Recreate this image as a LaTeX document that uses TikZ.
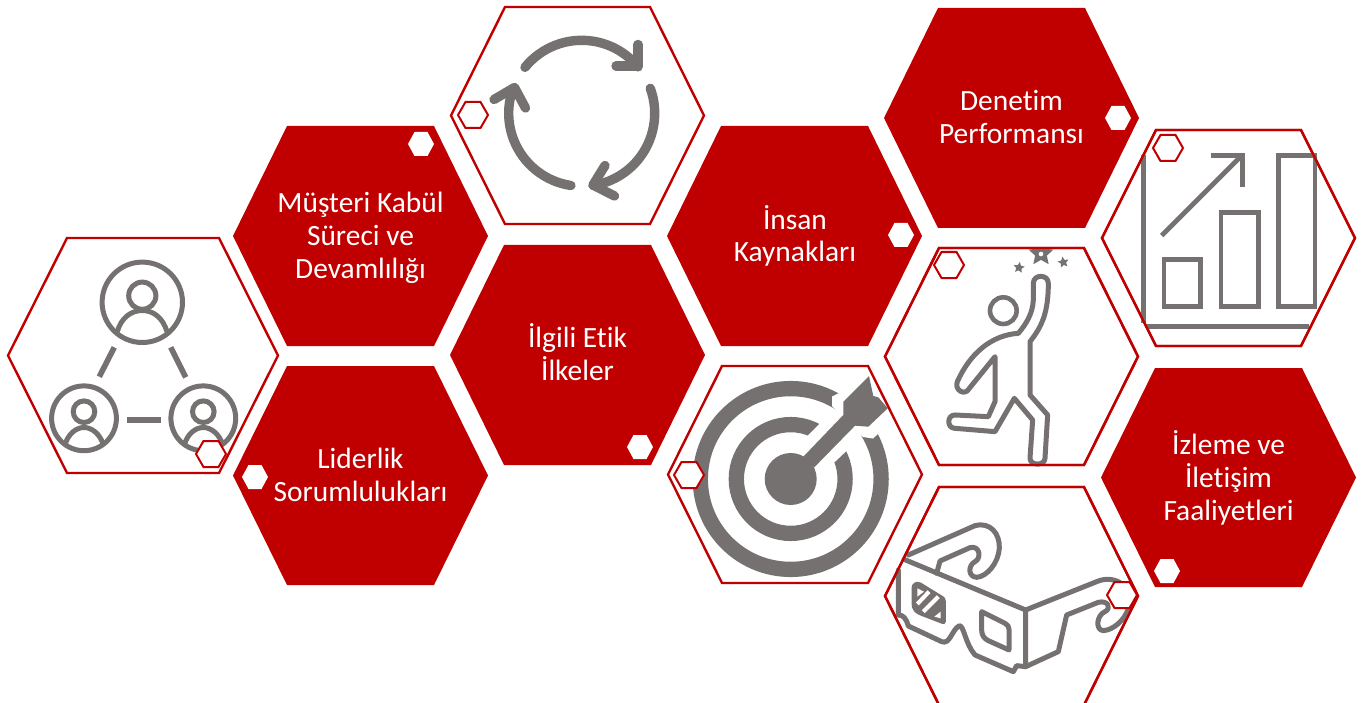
\documentclass[tikz,border=0pt]{standalone}
\usepackage{fontspec}
\setmainfont[Ligatures=CommonOff]{Carlito}
\usetikzlibrary{shapes.geometric}
\definecolor{kred}{HTML}{C00000}
\definecolor{kgray}{HTML}{767171}
% #1 left, #2 right, #3 top, #4 bottom, #5 inset
\newcommand\hexpath[5]{(#1,{(#3+#4)/2}) -- (#1+#5,#3) -- (#2-#5,#3) -- (#2,{(#3+#4)/2}) -- (#2-#5,#4) -- (#1+#5,#4) -- cycle}
% small hexagon centred at #1,#2, half width #3, half height #4
\newcommand\smallhex[4]{(#1-#3,#2) -- (#1-#3/2,#2-#4) -- (#1+#3/2,#2-#4) -- (#1+#3,#2) -- (#1+#3/2,#2+#4) -- (#1-#3/2,#2+#4) -- cycle}
\tikzset{
  redhex/.style={fill=kred,draw=none},
  openhex/.style={fill=white,draw=kred,line width=2.4pt,line join=miter},
  linehex/.style={draw=kred,line width=2.4pt,line join=miter},
  markw/.style={fill=white,draw=none},
  markr/.style={fill=white,draw=kred,line width=2pt},
  lab/.style={text=white,align=center,inner sep=0pt,font=\fontsize{29.4}{32.7}\selectfont},
  ico/.style={draw=kgray,line width=5pt,line join=round,line cap=round},
  icob/.style={draw=kgray,line width=4.8pt,line join=miter,line cap=butt},
  cyc/.style={draw=kgray,line width=9.4pt,line cap=round,line join=round},
  stari/.style={star,star points=5,star point ratio=2.1,fill=kgray,draw=none,inner sep=0pt}
}
\begin{document}
\begin{tikzpicture}[x=1pt,y=-1pt]
\useasboundingbox (0,0) rectangle (1364,703);
\clip (0,0) rectangle (1364,703);
% ---- outlined hexagons
\path[openhex] \hexpath{8}{278}{238}{473}{59};
\path[openhex] \hexpath{451}{704}{7}{224}{54};
\path[openhex] \hexpath{668}{922}{366}{583}{54};
\path[openhex] \hexpath{885}{1138}{248}{465}{54};
\path[openhex] \hexpath{885}{1138}{487}{705}{54};
\path[openhex] \hexpath{1102}{1355}{130}{346}{54};
% ---- red hexagons
\path[redhex] \hexpath{233}{488}{126}{346}{54};
\path[redhex] \hexpath{233}{488}{366}{585}{54};
\path[redhex] \hexpath{450}{705}{245}{465}{54};
\path[redhex] \hexpath{667}{922}{126}{346}{54};
\path[redhex] \hexpath{884}{1139}{8}{228}{54};
\path[redhex] \hexpath{1101}{1356}{368}{587}{54};
% ---- labels
\node[lab] (n1) at (360.5,238) {Müşteri Kabül\\Süreci ve\\Devamlılığı};
\node[lab] (n2) at (360.5,475) {Liderlik\\Sorumlulukları};
\node[lab] (n3) at (577.5,352) {İlgili Etik\\İlkeler};
\node[lab] (n4) at (795,236) {İnsan\\Kaynakları};
\node[lab] (n5) at (1011.5,117) {Denetim\\Performansı};
\node[lab] (n6) at (1228.5,478) {İzleme ve\\İletişim\\Faaliyetleri};
% ---- people icon
\begin{scope}[draw=kgray,line width=5pt]
\draw (142.3,302.3) circle (40.2);
\draw (142.3,295.7) circle (13.6);
\draw (117.3,331.7) .. controls (121,318) and (131,310.5) .. (142.3,310.5) .. controls (153.5,310.5) and (163,318) .. (167,331.7);
\draw (84,418.3) circle (32.4);
\draw (84,411.7) circle (10.8);
\draw (65,445) .. controls (68,434) and (76,427.5) .. (84,427.5) .. controls (92,427.5) and (100,434) .. (103.5,445);
\draw (203.3,418.3) circle (32.4);
\draw (203.3,411.7) circle (10.8);
\draw (184.3,445) .. controls (187.3,434) and (195.3,427.5) .. (203.3,427.5) .. controls (211.3,427.5) and (219.3,434) .. (222.8,445);
\draw[line width=5.6pt] (114.3,347.3) -- (99.3,376.7);
\draw[line width=5.6pt] (170.7,347.3) -- (185.7,377.3);
\draw[line width=5.6pt] (127.3,420) -- (160.7,420);
\end{scope}
% ---- cycle icon
\coordinate (cc) at (581.7,113.3);
\draw[cyc] (cc) ++(-141:73) arc (-141:-39.5:73);
\draw[cyc] (638,66) -- (638,44.5) (638,66) -- (616,66);
\draw[cyc] (cc) ++(-20:73) arc (-20:81:73);
\draw[cyc] (593,185) -- (605,165.5) (593,185) -- (614.5,196);
\draw[cyc] (cc) ++(98.5:73) arc (98.5:200:73);
\draw[cyc] (514.5,87.5) -- (494,99.5) (514.5,87.5) -- (525.5,108);
% ---- target icon
\coordinate (tc) at (790.7,479);
\draw[kgray,line width=15.3pt] (tc) circle (90.4);
\draw[kgray,line width=15.3pt] (tc) circle (54.4);
\fill[white] (832,406) -- (832,396.5) -- (843,391) -- (872,393) -- (882,420) -- (878,434) -- (873,438.5) -- (863,437) -- (855,430) -- cycle;
\fill[white] (806.7,436.7) -- (821.7,421.7) -- (848.3,449.3) -- (833.3,463.3) -- cycle;
\fill[kgray] (tc) circle (26);
\fill[kgray] (803.3,456.7) -- (843.3,415) -- (843.3,401.7) -- (869,376) -- (873.3,396) -- (878.3,397.3) -- (887.7,408.3) -- (868.3,426.7) -- (855,425.7) -- (814.3,467.3) -- cycle;
% ---- runner icon
\begin{scope}[shift={(880,240)},x=0.3333pt,y=-0.3333pt]
\draw[kgray,line width=4.6pt] (370,212) circle (40);
\draw[ico] (460,130) -- (460,180) .. controls (458,220) and (440,250) .. (415,280)
  .. controls (335,285) and (270,340) .. (232,425)
  .. controls (222,450) and (255,470) .. (268,445)
  -- (345,350) -- (345,485) -- (325,530) -- (225,525)
  .. controls (200,525) and (200,565) .. (225,565)
  -- (345,575) -- (403,475) -- (458,540) -- (450,655)
  .. controls (450,678) and (495,678) .. (495,655)
  -- (503,525) -- (450,465) -- (450,305)
  .. controls (485,260) and (505,220) .. (505,130)
  .. controls (505,102) and (460,102) .. (460,130) -- cycle;
\begin{scope}
\clip (430,29) rectangle (540,90);
\node[stari,minimum size=26pt] (bs) at (483,41) {};
\fill[white] (483,42) circle (7);
\end{scope}
\node[stari,minimum size=11.5pt,rotate=-8] (s1) at (417,83) {};
\node[stari,minimum size=11.5pt,rotate=10] (s2) at (550,67) {};
\end{scope}
% ---- glasses icon
\begin{scope}[shift={(880,480)},x=0.3333pt,y=-0.3333pt]
\draw[ico] (72,238) -- (437,390) -- (437,560);
\draw[ico] (55,270) -- (55,405) .. controls (70,405) and (78,415) .. (85,438) -- (185,485)
  .. controls (210,495) and (215,450) .. (238,437) .. controls (252,437) and (255,490) .. (285,525)
  -- (400,575) -- (410,557) -- (437,560) -- (535,515) -- (560,405) -- (655,367)
  .. controls (685,360) and (695,385) .. (675,395) .. controls (650,405) and (645,450) .. (670,452)
  .. controls (700,450) and (735,420) .. (745,385);
\draw[ico] (437,390) -- (650,305) .. controls (680,292) and (710,298) .. (730,315);
\draw[ico] (85,225) -- (285,137) .. controls (330,125) and (360,160) .. (358,205)
  .. controls (355,250) and (320,290) .. (290,292) .. controls (262,290) and (265,255) .. (285,245)
  .. controls (305,235) and (300,195) .. (270,203) -- (180,243) -- (170,280);
\path[ico,fill=kgray] (120,315) -- (185,355) .. controls (188,357) and (190,360) .. (190,365) -- (190,425) -- (125,400)
  .. controls (110,395) and (102,385) .. (102,370) -- (102,325) .. controls (102,315) and (110,310) .. (120,315) -- cycle;
\fill[white] (112,325) -- (112,350) -- (132,335) -- cycle;
\draw[white,line width=4pt] (112,372) -- (147,335);
\draw[white,line width=4pt] (130,395) -- (175,350);
\fill[white] (163,410) -- (182,395) -- (182,415) -- cycle;
\draw[ico] (305,395) -- (375,430) .. controls (383,434) and (387,440) .. (387,448) -- (387,510) -- (325,482)
  .. controls (312,476) and (305,465) .. (305,450) -- cycle;
\end{scope}
% ---- chart icon
\begin{scope}[shift={(1095,125)},x=0.3333pt,y=-0.3333pt]
\draw[icob] (145,90) -- (145,595);
\draw[icob] (155,605) -- (642,605);
\draw[icob] (207,403) rectangle (317,545);
\draw[icob] (378,263) rectangle (490,545);
\draw[icob] (550,92) rectangle (660,545);
\draw[icob] (200,332) -- (440,92);
\draw[icob] (348,92) -- (442,92) -- (442,187);
\end{scope}
% ---- hexagon outlines over the icons
\path[linehex] \hexpath{885}{1138}{248}{465}{54};
\path[linehex] \hexpath{885}{1138}{487}{705}{54};
\path[linehex] \hexpath{1102}{1355}{130}{346}{54};
% ---- small markers
\path[markw] \smallhex{421}{144}{13}{12};
\path[markw] \smallhex{255}{477}{13}{12};
\path[markw] \smallhex{640}{447}{13}{12};
\path[markw] \smallhex{901}{235}{13}{12};
\path[markw] \smallhex{1118}{118}{13}{12};
\path[markw] \smallhex{1167}{571}{13}{12};
\path[markr] \smallhex{211}{454}{15}{13};
\path[markr] \smallhex{473}{115}{15}{13};
\path[markr] \smallhex{689}{475}{15}{13};
\path[markr] \smallhex{949}{265}{15}{13};
\path[markr] \smallhex{1122}{595}{15}{13};
\path[markr] \smallhex{1168}{148}{15}{13};
\end{tikzpicture}
\end{document}
